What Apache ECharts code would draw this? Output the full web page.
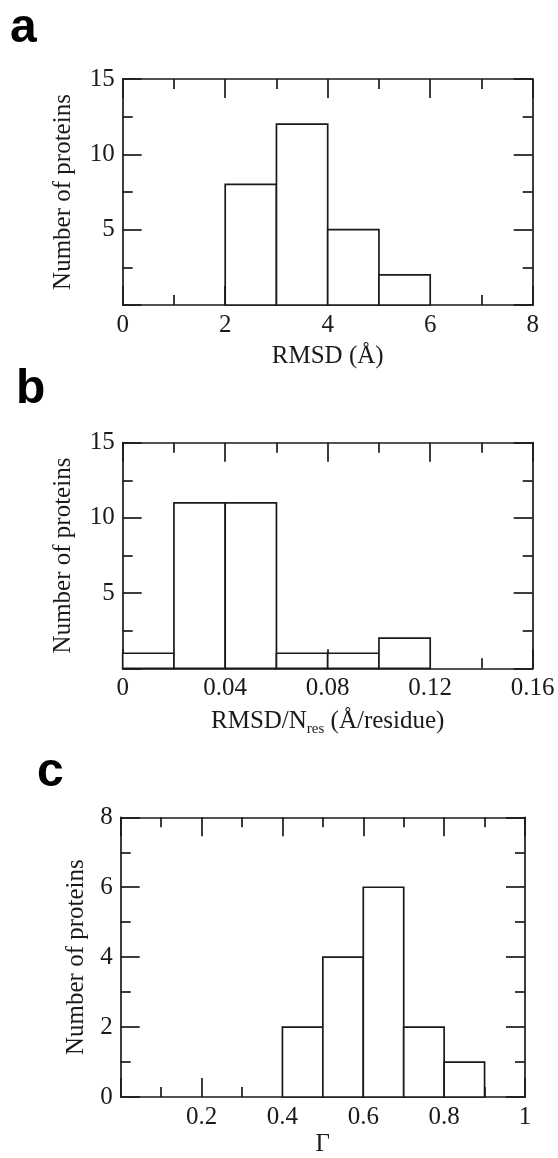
<!DOCTYPE html>
<html>
<head>
<meta charset="utf-8">
<script src="https://cdn.jsdelivr.net/npm/echarts@6/dist/echarts.min.js"></script>
<style>html,body{margin:0;padding:0;background:#fff;}#c{width:558px;height:1158px;}</style>
</head>
<body>
<div id="c"></div>
<script>
// ---- data ----
const panelLetters = ['a', 'b', 'c'];
const rmsdEdges = [2, 3, 4, 5, 6];
const rmsdCounts = [8, 12, 5, 2];
const normEdges = [0, 0.02, 0.04, 0.06, 0.08, 0.10, 0.12];
const normCounts = [1, 11, 11, 1, 1, 2];
const gammaEdges = [0.4, 0.5, 0.6, 0.7, 0.8, 0.9];
const gammaCounts = [2, 4, 6, 2, 1];
// tick labels shown
const xTicksA = ['0', '2', '4', '6', '8'];
const yTicksA = ['5', '10', '15'];
const xTicksB = ['0', '0.04', '0.08', '0.12', '0.16'];
const yTicksB = ['5', '10', '15'];
const xTicksC = ['0.2', '0.4', '0.6', '0.8', '1'];
const yTicksC = ['0', '2', '4', '6', '8'];
const xNameA = 'RMSD (Å)';
const yName = 'Number of proteins';
const xNameC = 'Γ';

const INK = '#1a1a1a';
const SERIF = '"Liberation Serif", "Times New Roman", serif';
const FS = 25;

function fmt(list) {
  return function (v) {
    for (const s of list) if (Math.abs(parseFloat(s) - v) < 1e-9) return s;
    return '';
  };
}
function binData(edges, counts) {
  return counts.map((c, i) => [edges[i], edges[i + 1], c]);
}
const grids = [
  { left: 122.7, top: 79, width: 410, height: 226 },
  { left: 122.7, top: 442.7, width: 410, height: 225.6 },
  { left: 120.7, top: 817.3, width: 404.3, height: 288.4 }
];
const xCfg = [
  { min: 0, max: 8, interval: 2, labels: xTicksA, name: xNameA, gap: 39 },
  { min: 0, max: 0.16, interval: 0.04, labels: xTicksB, name: 'RMSD/N{sub|res} (Å/residue)', gap: 38 },
  { min: 0, max: 1, interval: 0.2, labels: xTicksC, name: xNameC, gap: 35 }
];
const yCfg = [
  { min: 0, max: 15, interval: 5, labels: yTicksA, gap: 47 },
  { min: 0, max: 15, interval: 5, labels: yTicksB, gap: 47 },
  { min: 0, max: 8, interval: 2, labels: yTicksC, gap: 30 }
];
const lineStyle = { color: INK, width: 1.7 };
const xAxes = [], yAxes = [], series = [];
const datasets = [binData(rmsdEdges, rmsdCounts), binData(normEdges, normCounts), binData(gammaEdges, gammaCounts)];
for (let i = 0; i < 3; i++) {
  const xc = xCfg[i], yc = yCfg[i];
  const common = {
    type: 'value', gridIndex: i, splitLine: { show: false },
    axisLine: { show: true, onZero: false, lineStyle },
    axisTick: { show: true, inside: true, length: 19, lineStyle },
    minorTick: { show: true, splitNumber: 2, length: 10, lineStyle },
    minorSplitLine: { show: false }
  };
  xAxes.push(Object.assign({}, common, {
    position: 'bottom', min: xc.min, max: xc.max, interval: xc.interval,
    axisLabel: { show: true, formatter: fmt(xc.labels), color: INK, fontFamily: SERIF, fontSize: FS, lineHeight: 25, margin: 8, showMinLabel: true, showMaxLabel: true },
    name: xc.name, nameLocation: 'middle', nameGap: xc.gap,
    nameTextStyle: { color: INK, fontFamily: SERIF, fontSize: FS, verticalAlign: 'top',
      rich: { sub: { fontFamily: SERIF, fontSize: 15, color: INK, padding: [15, 0, 0, 0] } } }
  }));
  xAxes.push(Object.assign({}, common, {
    position: 'top', min: xc.min, max: xc.max, interval: xc.interval,
    axisLabel: { show: false }
  }));
  yAxes.push(Object.assign({}, common, {
    position: 'left', min: yc.min, max: yc.max, interval: yc.interval,
    axisLabel: { show: true, formatter: fmt(yc.labels), color: INK, fontFamily: SERIF, fontSize: FS, margin: 8, showMinLabel: true, showMaxLabel: true },
    name: yName, nameLocation: 'middle', nameGap: yc.gap, nameRotate: 90,
    nameTextStyle: { color: INK, fontFamily: SERIF, fontSize: FS }
  }));
  yAxes.push(Object.assign({}, common, {
    position: 'right', min: yc.min, max: yc.max, interval: yc.interval,
    axisLabel: { show: false }
  }));
  series.push({
    type: 'custom', xAxisIndex: 2 * i, yAxisIndex: 2 * i,
    data: datasets[i], silent: true, z: 1,
    renderItem: function (params, api) {
      const p0 = api.coord([api.value(0), api.value(2)]);
      const p1 = api.coord([api.value(1), 0]);
      return {
        type: 'rect',
        shape: { x: p0[0], y: p0[1], width: p1[0] - p0[0], height: p1[1] - p0[1] },
        style: { fill: '#fff', stroke: INK, lineWidth: 1.7 }
      };
    }
  });
}
const letterPos = [[10, 29], [16, 390], [37, 773]];
const graphic = panelLetters.map((t, i) => ({
  type: 'text', x: letterPos[i][0], y: letterPos[i][1],
  style: { text: t, font: 'bold 48px "Liberation Sans", Arial, sans-serif', fill: '#000', verticalAlign: 'middle', align: 'left' }
}));
const chart = echarts.init(document.getElementById('c'), null, { renderer: 'canvas' });
chart.setOption({
  animation: false,
  backgroundColor: '#fff',
  grid: grids,
  xAxis: xAxes,
  yAxis: yAxes,
  series: series,
  graphic: graphic
});
</script>
</body>
</html>
